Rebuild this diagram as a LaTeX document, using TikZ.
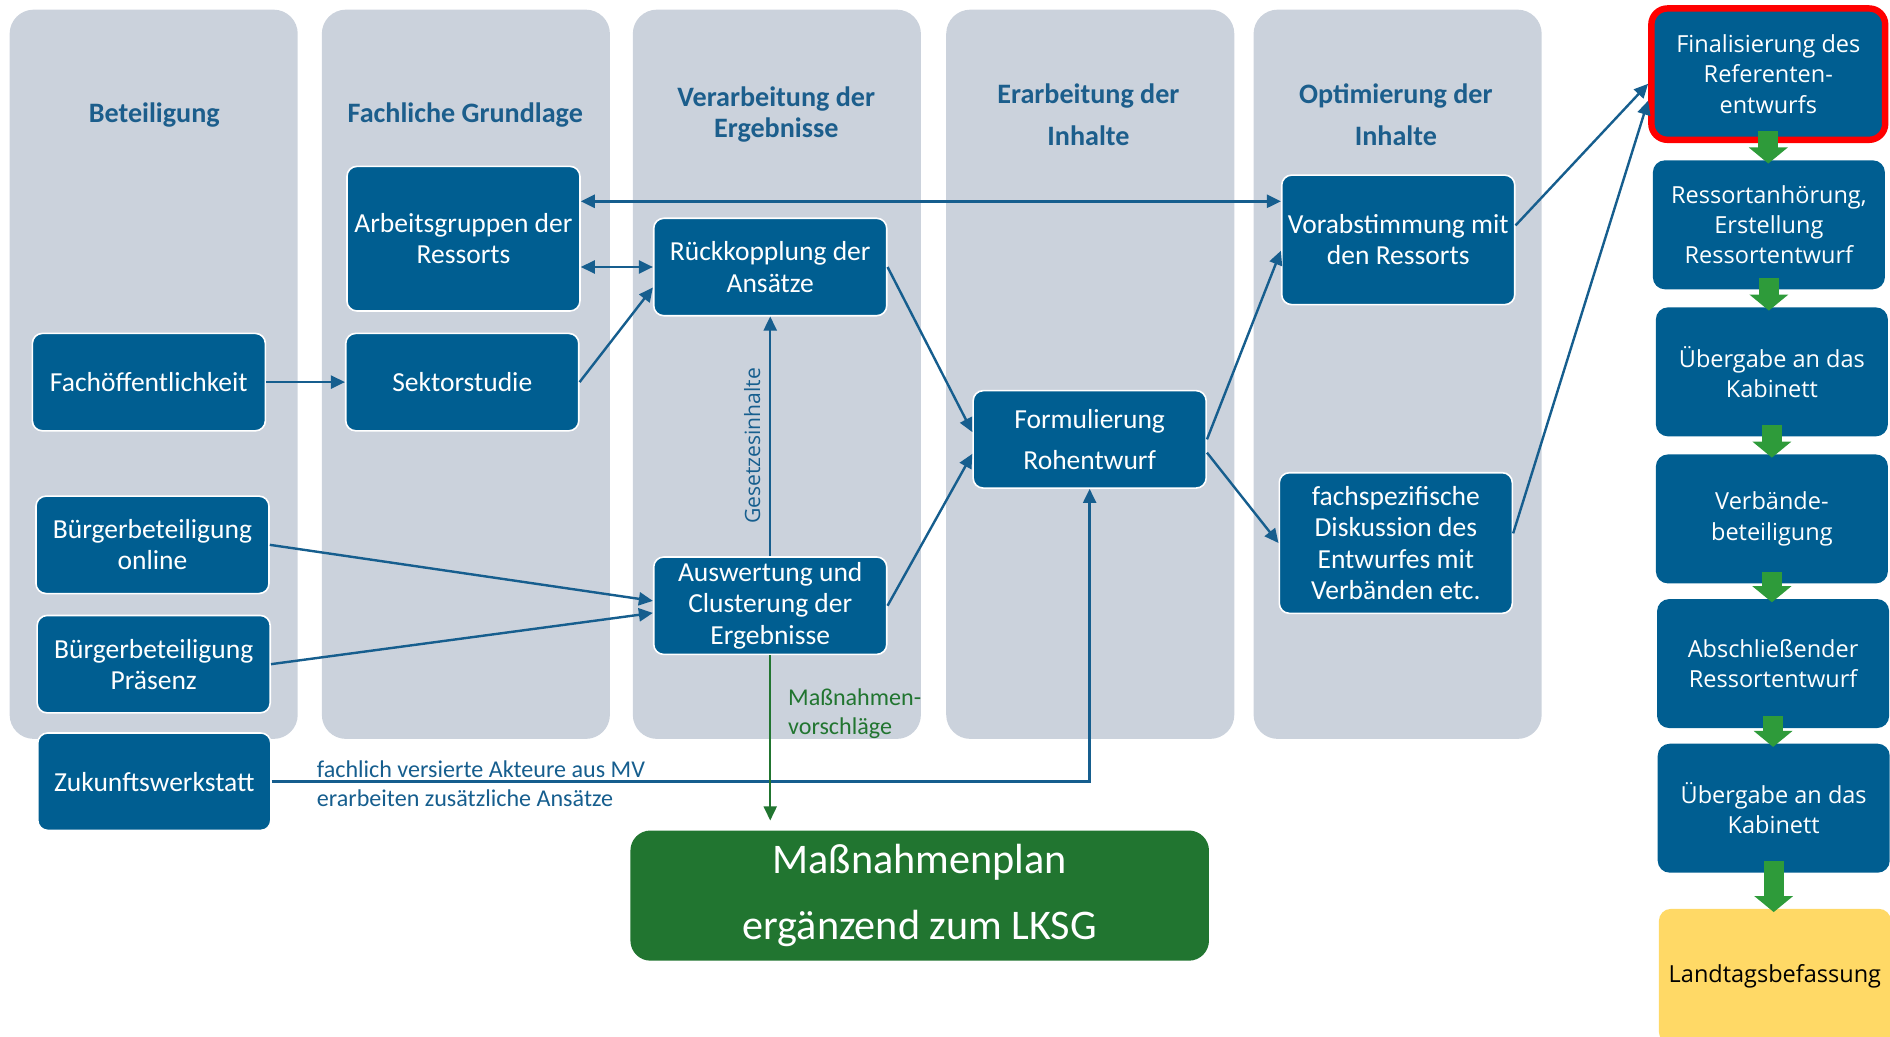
\documentclass[tikz,border=0pt]{standalone}
\usepackage{fontspec}
\setmainfont{Carlito}
\newfontfamily\osans{Open Sans}
\usetikzlibrary{arrows.meta,calc,positioning}
\definecolor{lanegray}{RGB}{203,210,220}
\definecolor{boxblue}{RGB}{0,94,145}
\definecolor{hdblue}{RGB}{28,94,140}
\definecolor{arrblue}{RGB}{22,94,142}
\definecolor{plangreen}{RGB}{33,117,48}
\definecolor{flowgreen}{RGB}{46,155,58}
\definecolor{landyellow}{RGB}{255,217,102}

\begin{document}
\begin{tikzpicture}[x=0.6pt, y=-0.6pt,
lane/.style = {fill=lanegray, rounded corners=12pt},
head/.style = {text=hdblue, font=\bfseries\fontsize{14}{15}\selectfont, align=center},
box/.style = {draw=white, line width=0.8pt, fill=boxblue, rounded corners=5pt, text=white, align=center, inner sep=0pt, minimum width=116pt, minimum height=48.5pt, font=\fontsize{13.7}{15.5}\selectfont},
stage/.style = {fill=boxblue, rounded corners=6pt, text=white, align=center, inner sep=0pt, minimum width=115.5pt, minimum height=64.2pt, font=\osans\fontsize{11.7}{15}\selectfont},
arr/.style = {draw=arrblue, line width=1.2pt, -{Triangle[length=7pt,width=6.5pt]}},
arrboth/.style = {arr, {Triangle[length=7pt,width=6.5pt]}-{Triangle[length=7pt,width=6.5pt]}},
flow/.style = {draw=flowgreen, line width=10pt, -{Triangle[length=8pt,width=19pt]}},
note/.style = {text=arrblue, font=\fontsize{12}{14.4}\selectfont, align=left}]
\useasboundingbox (0,0) rectangle (1568,860);

\foreach \lx in {8,267,525,785,1040}
  \fill[lane] (\lx,8) rectangle ++(239,605);

\node[head] (h1) at (128,95) {Beteiligung};
\node[head] (h2) at (386,95) {Fachliche Grundlage};
\node[head] (h3) at (644,95) {Verarbeitung der\\Ergebnisse};
\node[head, font=\bfseries\fontsize{14}{21}\selectfont] (h4) at (903,95) {Erarbeitung der\\Inhalte};
\node[head, font=\bfseries\fontsize{14}{21}\selectfont] (h5) at (1158,95) {Optimierung der\\Inhalte};

\node[box] (fach) at (123.5,317) {Fachöffentlichkeit};
\node[box] (sektor) at (383.5,317) {Sektorstudie};
\node[box, minimum height=72pt] (arbeit) at (384.5,198) {Arbeitsgruppen der\\Ressorts};
\node[box] (rueck) at (639,221.5) {Rückkopplung der\\Ansätze};
\node[box] (ausw) at (639,502.5) {Auswertung und\\Clusterung der\\Ergebnisse};
\node[box] (online) at (126.5,452) {Bürgerbeteiligung\\online};
\node[box] (praesenz) at (127.5,551) {Bürgerbeteiligung\\Präsenz};
\node[box] (zukunft) at (128,648.5) {Zukunftswerkstatt};
\node[box, font=\fontsize{13.7}{20.4}\selectfont] (formul) at (904,364.5) {Formulierung\\Rohentwurf};
\node[box, minimum height=64.5pt] (vorab) at (1160,199) {Vorabstimmung mit\\den Ressorts};
\node[box, minimum height=70pt] (fachsp) at (1158,450.5) {fachspezifische\\Diskussion des\\Entwurfes mit\\Verbänden etc.};

\node[fill=plangreen, rounded corners=10pt, text=white, align=center, inner sep=0pt, minimum width=288pt, minimum height=64.8pt, font=\fontsize{21}{33}\selectfont] (plan) at (763,743) {Maßnahmenplan\\ergänzend zum LKSG};

\node[stage, draw=red, line width=3.2pt, rounded corners=8pt, minimum width=116.4pt, minimum height=65.4pt] (final) at (1467,61.5) {Finalisierung des\\Referenten-\\entwurfs};
\node[stage] (anhoer) at (1467.5,186.5) {Ressortanhörung,\\Erstellung\\Ressortentwurf};
\node[stage] (ueber1) at (1470,308.5) {Übergabe an das\\Kabinett};
\node[stage] (verb) at (1470,430.5) {Verbände-\\beteiligung};
\node[stage] (absch) at (1471,550.5) {Abschließender\\Ressortentwurf};
\node[stage] (ueber2) at (1471.5,670.5) {Übergabe an das\\Kabinett};
\node[stage, fill=landyellow, text=black, minimum height=67.2pt] (landtag) at (1472.5,810) {Landtagsbefassung};

\foreach \a/\b in {final/anhoer, anhoer/ueber1, ueber1/verb, verb/absch, absch/ueber2, ueber2/landtag}
  \draw[flow] ($(\a.south)+(0,-10)$) -- ($(\a.south |- \b.north)+(0,3)$);

\draw[arr] (fach.east) -- (sektor.west);
\draw[arrboth] ($(arbeit.east)+(0,-31)$) coordinate (ab1) -- (ab1 -| vorab.west);
\draw[arrboth] (arbeit.east |- rueck.west) -- (rueck.west);
\draw[arr] (sektor.east) -- ($(rueck.west)+(0,17)$);
\draw[arr] (rueck.east) -- ($(formul.west)+(0,-6)$);
\draw[arr] (ausw.east) -- ($(formul.west)+(0,12)$);
\draw[arr] (ausw.north) -- (rueck.south);
\draw[arr] (formul.east) -- ($(vorab.west)+(0,9)$);
\draw[arr] ($(formul.east)+(0,11)$) -- (fachsp.west);
\draw[arr] ($(vorab.east)+(0,-12)$) -- ($(final.west)+(0,8)$);
\draw[arr] ($(fachsp.east)+(0,-8)$) -- ($(final.west)+(0,22)$);
\draw[arr] (online.east) -- ($(ausw.west)+(0,-4)$);
\draw[arr] (praesenz.east) -- ($(ausw.west)+(0,6)$);
\draw[arr] (zukunft.east) -| (formul.south);
\draw[arr, draw=plangreen, line width=0.9pt] (ausw.south) -- ($(ausw.south |- plan.north)+(0,-8)$);

\node[note, anchor=west] (akt1) at (257,638) {fachlich versierte Akteure aus MV};
\node[note, anchor=west] (akt2) at (257,662) {erarbeiten zusätzliche Ansätze};
\node[note, font=\osans\fontsize{10.5}{12}\selectfont, rotate=90] (gesetz) at (624,370) {Gesetzesinhalte};
\node[note, text=plangreen, anchor=west] (mvor) at (648,592) {Maßnahmen-\\vorschläge};
\end{tikzpicture}
\end{document}
